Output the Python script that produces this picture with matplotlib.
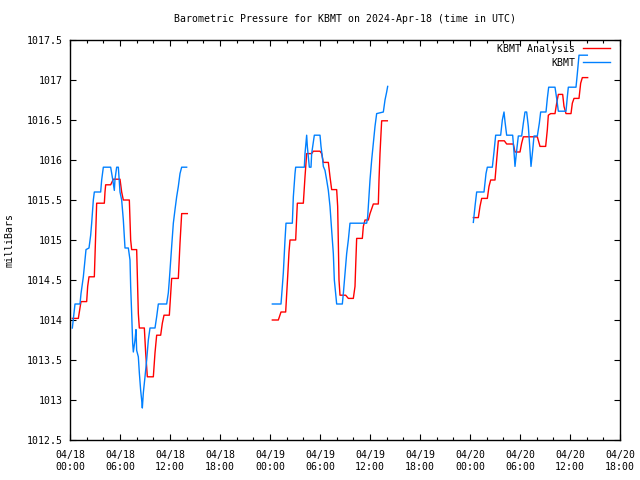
import matplotlib
matplotlib.use("Agg")
import matplotlib.pyplot as plt
from matplotlib.ticker import MultipleLocator, FixedLocator
import numpy as np

# hours since 2024-04-18 00:00 UTC
obs_t1 = [0.28, 0.6, 1.2, 1.32, 1.6, 1.92, 2.28, 2.48, 2.6, 2.8, 2.92, 3.68, 3.8, 4.0, 4.88, 5.12,
          5.32, 5.4, 5.6, 5.8, 6.0, 6.2, 6.4, 6.6, 7.0, 7.2, 7.28, 7.4, 7.52, 7.6, 7.8, 7.92, 8.0,
          8.2, 8.32, 8.48, 8.6, 8.68, 8.8, 9.0, 9.2, 9.4, 9.6, 10.2, 10.4, 10.6, 11.6, 11.8, 11.92,
          12.2, 12.4, 12.6, 12.8, 13.0, 13.2, 13.4, 14.0]
obs_v1 = [1013.9, 1014.2, 1014.2, 1014.33, 1014.54, 1014.88, 1014.9, 1015.06, 1015.21, 1015.5,
          1015.6, 1015.6, 1015.75, 1015.91, 1015.91, 1015.76, 1015.62, 1015.76, 1015.91, 1015.91,
          1015.6, 1015.5, 1015.25, 1014.9, 1014.9, 1014.75, 1014.42, 1014.08, 1013.71, 1013.6,
          1013.75, 1013.88, 1013.62, 1013.54, 1013.34, 1013.12, 1013.0, 1012.9, 1013.09, 1013.29,
          1013.5, 1013.75, 1013.9, 1013.9, 1014.04, 1014.2, 1014.2, 1014.34, 1014.5, 1014.92,
          1015.21, 1015.38, 1015.54, 1015.67, 1015.83, 1015.91, 1015.91]

ana_t1 = [0.28, 1.0, 1.32, 2.0, 2.12, 2.28, 2.92, 3.06, 3.2, 4.12, 4.2, 4.28, 4.88, 5.2, 6.0, 6.2,
          6.4, 7.12, 7.28, 7.4, 8.0, 8.2, 8.32, 8.92, 9.08, 9.28, 10.0, 10.2, 10.4, 10.88, 11.08,
          11.28, 11.92, 12.2, 13.0, 13.2, 13.4, 14.08]
ana_v1 = [1014.02, 1014.02, 1014.23, 1014.23, 1014.42, 1014.54, 1014.54, 1015.0, 1015.46, 1015.46,
          1015.6, 1015.69, 1015.69, 1015.76, 1015.76, 1015.6, 1015.5, 1015.5, 1015.0, 1014.88,
          1014.88, 1014.08, 1013.9, 1013.9, 1013.59, 1013.29, 1013.29, 1013.59, 1013.81, 1013.81,
          1013.96, 1014.06, 1014.06, 1014.52, 1014.52, 1014.96, 1015.33, 1015.33]

obs_t2 = [24.28, 25.32, 25.48, 25.6, 25.8, 25.92, 26.68, 26.8, 27.0, 27.08, 28.12, 28.2, 28.4, 28.48,
          28.72, 28.92, 29.0, 29.32, 30.0, 30.12, 30.28, 30.4, 30.6, 30.8, 31.0, 31.2, 31.4, 31.6,
          31.72, 31.88, 32.0, 32.68, 32.8, 33.0, 33.2, 33.4, 33.6, 35.6, 35.72, 35.8, 36.0, 36.2,
          36.4, 36.6, 36.8, 37.6, 37.8, 38.0, 38.12]
obs_v2 = [1014.2, 1014.2, 1014.42, 1014.59, 1015.0, 1015.21, 1015.21, 1015.54, 1015.83, 1015.91,
          1015.91, 1016.08, 1016.31, 1016.17, 1015.91, 1015.91, 1016.08, 1016.31, 1016.31, 1016.17,
          1016.04, 1015.92, 1015.87, 1015.75, 1015.62, 1015.42, 1015.12, 1014.83, 1014.5, 1014.33,
          1014.2, 1014.2, 1014.33, 1014.58, 1014.83, 1015.0, 1015.21, 1015.21, 1015.29, 1015.42,
          1015.75, 1016.0, 1016.21, 1016.42, 1016.58, 1016.6, 1016.75, 1016.85, 1016.92]

ana_t2 = [24.28, 25.0, 25.32, 25.88, 26.12, 26.28, 26.4, 27.08, 27.28, 28.0, 28.2, 28.4, 29.0, 29.2,
          30.0, 30.2, 30.4, 31.0, 31.2, 31.4, 32.0, 32.12, 32.2, 32.28, 32.4, 33.08, 33.4, 34.0,
          34.2, 34.28, 34.4, 35.08, 35.2, 35.4, 35.8, 36.0, 36.4, 37.0, 37.08, 37.2, 37.32, 37.4,
          38.08]
ana_v2 = [1014.0, 1014.0, 1014.1, 1014.1, 1014.54, 1014.85, 1015.0, 1015.0, 1015.46, 1015.46,
          1015.79, 1016.08, 1016.08, 1016.11, 1016.11, 1016.08, 1015.97, 1015.97, 1015.79, 1015.63,
          1015.63, 1015.42, 1014.96, 1014.5, 1014.31, 1014.31, 1014.27, 1014.27, 1014.42, 1014.67,
          1015.02, 1015.02, 1015.17, 1015.25, 1015.25, 1015.33, 1015.45, 1015.45, 1015.75, 1016.08,
          1016.33, 1016.49, 1016.49]

obs_t3 = [48.4, 48.6, 48.8, 49.68, 49.92, 50.08, 50.68, 50.88, 51.08, 51.68, 51.88, 52.08, 52.2,
          52.4, 53.12, 53.28, 53.4, 53.6, 53.8, 54.2, 54.4, 54.6, 54.8, 55.0, 55.2, 55.32, 55.52,
          55.68, 56.08, 56.32, 56.48, 57.12, 57.28, 57.44, 58.2, 58.4, 58.6, 59.52, 59.68, 59.8,
          60.72, 60.88, 61.08, 62.08]
obs_v3 = [1015.22, 1015.42, 1015.6, 1015.6, 1015.83, 1015.91, 1015.91, 1016.1, 1016.31, 1016.31,
          1016.5, 1016.6, 1016.48, 1016.31, 1016.31, 1016.1, 1015.92, 1016.12, 1016.3, 1016.3,
          1016.46, 1016.6, 1016.6, 1016.42, 1016.12, 1015.92, 1016.12, 1016.3, 1016.3, 1016.46,
          1016.6, 1016.6, 1016.77, 1016.91, 1016.91, 1016.77, 1016.61, 1016.61, 1016.79, 1016.91,
          1016.91, 1017.08, 1017.31, 1017.31]

ana_t3 = [48.4, 49.0, 49.2, 49.4, 50.08, 50.28, 50.48, 51.0, 51.2, 51.4, 52.12, 52.4, 53.2, 53.4,
          54.0, 54.2, 54.4, 56.08, 56.4, 57.08, 57.28, 57.4, 57.68, 58.2, 58.4, 58.6, 59.12, 59.28,
          59.52, 60.12, 60.28, 60.48, 61.08, 61.28, 61.48, 62.12]
ana_v3 = [1015.28, 1015.28, 1015.42, 1015.52, 1015.52, 1015.67, 1015.75, 1015.75, 1016.0, 1016.24,
          1016.24, 1016.2, 1016.2, 1016.1, 1016.1, 1016.21, 1016.29, 1016.29, 1016.17, 1016.17,
          1016.38, 1016.56, 1016.58, 1016.58, 1016.71, 1016.82, 1016.82, 1016.67, 1016.58, 1016.58,
          1016.71, 1016.77, 1016.77, 1016.96, 1017.03, 1017.03]

x_ticks = [0, 6, 12, 18, 24, 30, 36, 42, 48, 54, 60, 66]
x_labels = ["04/18\n00:00", "04/18\n06:00", "04/18\n12:00", "04/18\n18:00",
            "04/19\n00:00", "04/19\n06:00", "04/19\n12:00", "04/19\n18:00",
            "04/20\n00:00", "04/20\n06:00", "04/20\n12:00", "04/20\n18:00"]
y_ticks = [1012.5, 1013, 1013.5, 1014, 1014.5, 1015, 1015.5, 1016, 1016.5, 1017, 1017.5]
y_labels = ["1012.5", "1013", "1013.5", "1014", "1014.5", "1015", "1015.5", "1016", "1016.5",
            "1017", "1017.5"]

title = "Barometric Pressure for KBMT on 2024-Apr-18 (time in UTC)"
ylabel = "milliBars"

FONT = "DejaVu Sans Mono"
FS = 7.1
RED = "#ff0000"
BLUE = "#0080ff"

fig = plt.figure(figsize=(6.4, 4.8), dpi=100)
ax = fig.add_axes([70 / 640, 40 / 480, 550 / 640, 400 / 480])

segments = [(ana_t1, ana_v1, obs_t1, obs_v1), (ana_t2, ana_v2, obs_t2, obs_v2),
            (ana_t3, ana_v3, obs_t3, obs_v3)]
for i, (at, av, ot, ov) in enumerate(segments):
    ax.plot(at, av, color=RED, lw=1.0, label="KBMT Analysis" if i == 0 else None)
    ax.plot(ot, ov, color=BLUE, lw=1.0, label="KBMT" if i == 0 else None)

ax.set_xlim(0, 66)
ax.set_ylim(1012.5, 1017.5)
ax.xaxis.set_major_locator(FixedLocator(x_ticks))
ax.set_xticklabels(x_labels, fontfamily=FONT, fontsize=FS, linespacing=1.25)
ax.xaxis.set_minor_locator(MultipleLocator(2))
ax.yaxis.set_major_locator(FixedLocator(y_ticks))
ax.set_yticklabels(y_labels, fontfamily=FONT, fontsize=FS)

ax.tick_params(which="both", direction="in", top=True, right=True, width=0.8, colors="black")
ax.tick_params(which="major", length=4, pad=5)
ax.tick_params(axis="x", which="major", pad=7)
ax.tick_params(which="minor", length=2)
for s in ax.spines.values():
    s.set_linewidth(1.0)

fig.text(345 / 640, 1 - 19 / 480, title, ha="center", va="center", fontfamily=FONT, fontsize=FS)
fig.text(10 / 640, 0.5, ylabel, rotation=90, ha="center", va="center",
         fontfamily=FONT, fontsize=FS)

leg = ax.legend(loc="upper right", bbox_to_anchor=(1.0, 1.0 + 6 / 400), frameon=False,
                markerfirst=False, prop={"family": FONT, "size": FS}, handlelength=2.75,
                handletextpad=0.8, labelspacing=0.4, borderaxespad=0.9, borderpad=0.1)

fig.savefig("out.png", dpi=100)
